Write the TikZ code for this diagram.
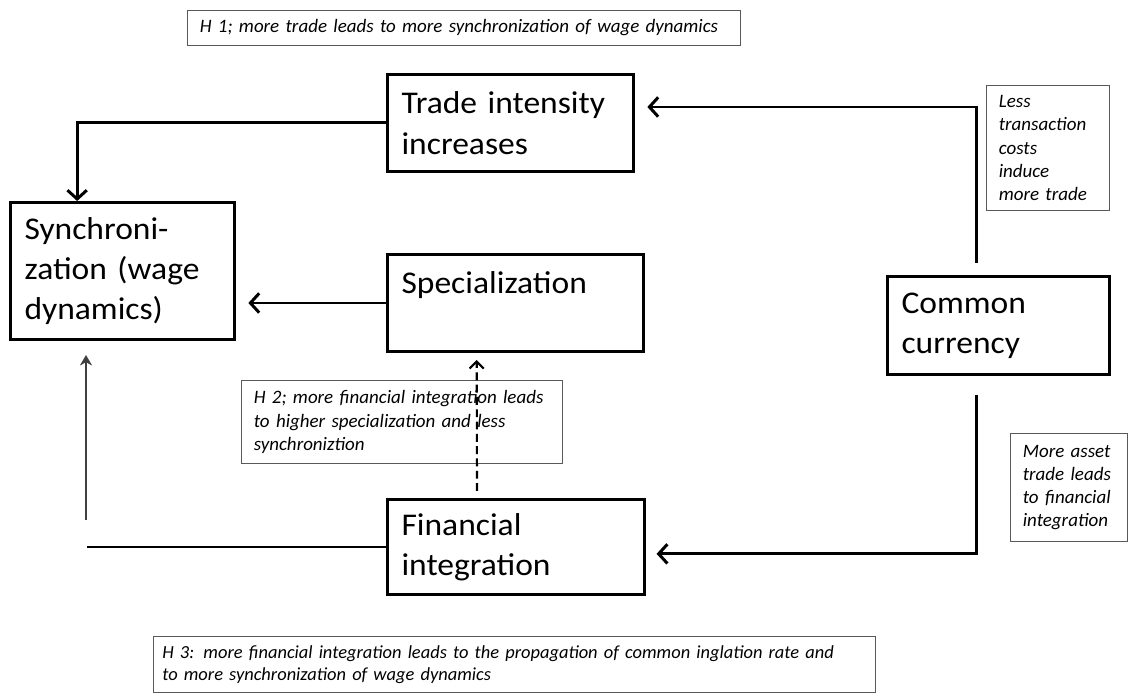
\documentclass[tikz,border=0pt]{standalone}
\usepackage{fontspec}
\setmainfont{Carlito}
\newfontfamily\boxfont{Carlito}[FakeStretch=1.06,WordSpace=0.6]
\usetikzlibrary{arrows.meta,calc}

\begin{document}
\begin{tikzpicture}[x=0.02cm,y=-0.02cm,
  box/.style={draw,line width=1.7pt,anchor=north west,inner xsep=8pt,inner ysep=0pt,
    align=left,font=\boxfont\fontsize{18}{23}\selectfont},
  note/.style={draw=black!65,line width=0.6pt,anchor=north west,inner xsep=7pt,inner ysep=0pt,
    align=left,font=\fontsize{10.8}{13.2}\selectfont\itshape},
  conn/.style={line width=1.7pt,-{Straight Barb[length=5pt,width=11pt]}},
  thinconn/.style={line width=0.7pt,black!75,-{Stealth[length=6pt,width=7pt]}}]
  \useasboundingbox (0,0) rectangle (1128,694);

  \node[note,text width=10.57cm,minimum height=0.7cm] (hone) at (187,10)
    {H 1; more trade leads to more synchronization of wage dynamics};
  \node[box,text width=4.36cm,minimum height=1.94cm] (trade) at (386,73)
    {Trade intensity\\increases};
  \node[box,text width=3.92cm,minimum height=2.74cm] (sync) at (9,201)
    {Synchroni-\\zation (wage\\dynamics)};
  \node[box,text width=4.56cm,minimum height=1.94cm] (spec) at (386,253)
    {Specialization\\\mbox{}};
  \node[box,text width=3.88cm,minimum height=1.96cm] (currency) at (886,275)
    {Common\\currency};
  \node[box,text width=4.58cm,minimum height=1.9cm] (fin) at (386,498)
    {Financial\\integration};
  \node[note,text width=1.97cm,minimum height=2.5cm] (costs) at (986,85)
    {Less\\transaction\\costs\\induce\\more trade};
  \node[note,text width=1.85cm,minimum height=2.16cm] (asset) at (1010,433)
    {More asset\\trade leads\\to financial\\integration};
  \node[note,text width=5.93cm,minimum height=1.66cm] (htwo) at (241,380)
    {H 2; more financial integration leads\\to higher specialization and less\\synchroniztion};
  \node[note,inner xsep=5pt,text width=14.09cm,minimum height=1.12cm,
    font=\fontsize{10.5}{12.8}\selectfont\itshape] (hthree) at (153,636)
    {H 3: more financial integration leads to the propagation of common inglation rate and\\to more synchronization of wage dynamics};

  \draw[conn] (trade.west) -| ($(sync.north west)!0.3!(sync.north east)$);
  \draw[conn,shorten >=7pt] (spec.west) -- (spec.west -| sync.east);
  \draw[conn,shorten <=7pt,shorten >=7pt] ($(currency.north west)!0.4!(currency.north east)$)
    |- ($(trade.north east)!0.34!(trade.south east)$);
  \draw[conn,shorten <=11pt,shorten >=6pt] ($(currency.south west)!0.4!(currency.south east)$)
    |- ($(fin.north east)!0.57!(fin.south east)$);
  \coordinate (finleft) at (87,541);
  \coordinate (risefoot) at (86,520);
  \draw[line width=1.7pt] (fin.west) -- (fin.west -| finleft);
  \draw[thinconn,shorten >=8pt] (risefoot) -- (risefoot |- sync.south);
  \draw[line width=1.2pt,dash pattern=on 4.5pt off 2.5pt,-{Straight Barb[length=4pt,width=8pt]},
    shorten <=4pt,shorten >=4pt] ($(fin.north west)!0.35!(fin.north east)$)
    -- ($(spec.south west)!0.35!(spec.south east)$);
\end{tikzpicture}
\end{document}
